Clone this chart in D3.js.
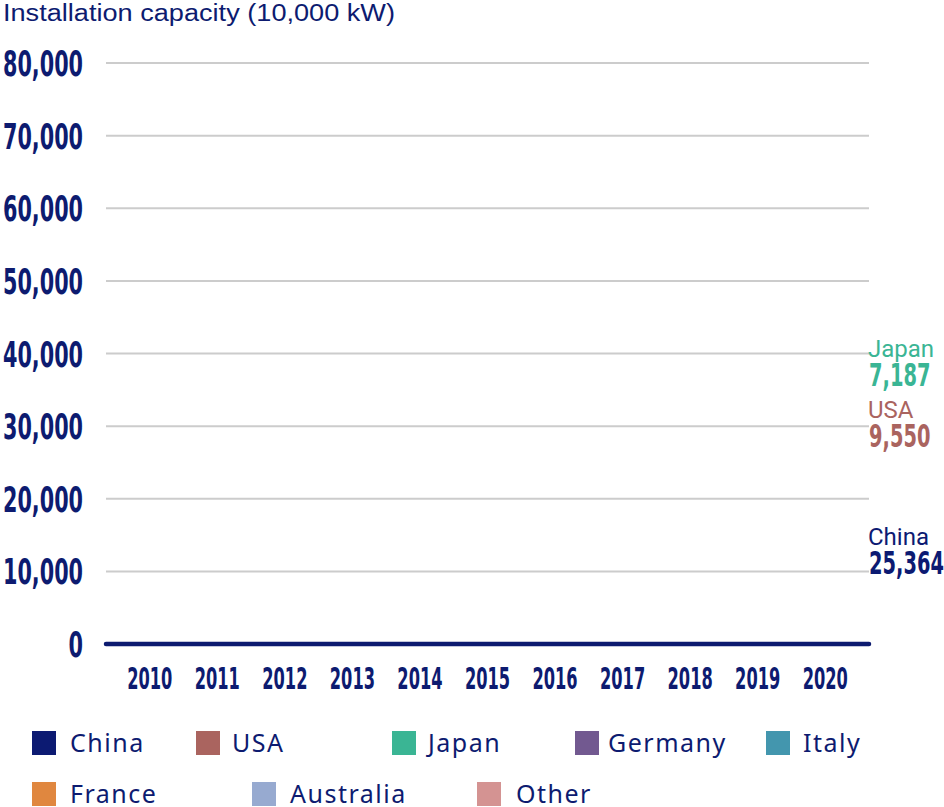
<!DOCTYPE html>
<html>
<head>
<meta charset="utf-8">
<script src="https://cdn.jsdelivr.net/npm/d3@7"></script>
<style>
  html, body { margin: 0; padding: 0; background: #fff; }
  svg { display: block; }
</style>
</head>
<body>
<svg id="chart" width="944" height="807"></svg>
<script>
// ---------- data ----------
const years = ["2010","2011","2012","2013","2014","2015","2016","2017","2018","2019","2020"];
const countries = ["China","USA","Japan","Germany","Italy","France","Australia","Other"];
const countryColors = ["#0c1a72","#aa645f","#3ab594","#725990","#4396ae","#e0873f","#97aad0","#d49392"];
// latest (2020) labelled values for the leading countries, stacked bottom-up
const labelCountries = ["China","USA","Japan"];
const labelValues = [25364, 9550, 7187];
const yTicks = [0,10000,20000,30000,40000,50000,60000,70000,80000];
const yMax = 80000;
const axisTitle = "Installation capacity (10,000 kW)";

// ---------- layout ----------
const navy = "#0d1b70";
const numFont = "'DejaVu Sans',sans-serif";
const txtFont = "Roboto,'Liberation Sans',sans-serif";
const svg = d3.select("#chart");

const y = d3.scaleLinear().domain([0, yMax]).range([644, 63]);
const x = d3.scaleBand().domain(years).range([116, 859]).paddingInner(0.3).paddingOuter(0.15);
const gridX0 = 106, gridX1 = 869;

// condensed numerals: fit each string to a width built from digit/comma widths
function fitNum(sel, digitW, commaW) {
  sel.each(function() {
    const s = d3.select(this).text();
    let w = 0;
    for (const ch of s) w += (ch === "," ? commaW : digitW);
    d3.select(this).attr("textLength", w).attr("lengthAdjust", "spacingAndGlyphs");
  });
}

// title
svg.append("text")
  .attr("x", 3).attr("y", 21)
  .attr("font-family", "'Liberation Sans',Arial,sans-serif").attr("font-size", 23.5)
  .attr("fill", navy)
  .attr("textLength", 392).attr("lengthAdjust", "spacingAndGlyphs")
  .text(axisTitle);

// gridlines
svg.append("g").selectAll("line")
  .data(yTicks.filter(d => d > 0))
  .join("line")
  .attr("x1", gridX0).attr("x2", gridX1)
  .attr("y1", d => y(d)).attr("y2", d => y(d))
  .attr("stroke", "#cccccc").attr("stroke-width", 2);

// y tick labels
const yl = svg.append("g").selectAll("text")
  .data(yTicks)
  .join("text")
  .attr("x", 83).attr("y", d => y(d) + 13)
  .attr("text-anchor", "end")
  .attr("font-family", numFont).attr("font-weight", "bold")
  .attr("font-size", 35)
  .attr("fill", navy)
  .text(d => d3.format(",")(d));
fitNum(yl, 14.5, 7.5);

// baseline
svg.append("line")
  .attr("x1", gridX0).attr("x2", gridX1)
  .attr("y1", y(0)).attr("y2", y(0))
  .attr("stroke", navy).attr("stroke-width", 4.5)
  .attr("stroke-linecap", "round");

// x labels
const xl = svg.append("g").selectAll("text")
  .data(years)
  .join("text")
  .attr("x", d => x(d) + x.bandwidth() / 2)
  .attr("y", 689)
  .attr("text-anchor", "middle")
  .attr("font-family", numFont).attr("font-weight", "bold")
  .attr("font-size", 30)
  .attr("fill", navy)
  .text(d => d);
fitNum(xl, 11.3, 6);

// right-hand labels at stacked midpoints of the last year
let cum = 0;
const stackMid = labelValues.map(v => { const m = cum + v / 2; cum += v; return m; });
const rl = svg.append("g");
labelCountries.forEach((c, i) => {
  const col = countryColors[countries.indexOf(c)];
  const ym = y(stackMid[i]);
  rl.append("text")
    .attr("x", 868).attr("y", ym - 7)
    .attr("font-family", txtFont).attr("font-size", 24)
    .attr("fill", col)
    .text(c);
  const t = rl.append("text")
    .attr("x", 869).attr("y", ym + 22)
    .attr("font-family", numFont).attr("font-weight", "bold")
    .attr("font-size", 31.5)
    .attr("fill", col)
    .text(d3.format(",")(labelValues[i]));
  fitNum(t, 13.6, 7);
});

// legend
const legendSq = [[32,731],[196,731],[392,731],[575,731],[766,731],[32,782],[252,782],[477,782]];
const legendTx = [70,232,428,608,803,70,290,516];
const lg = svg.append("g");
countries.forEach((c, i) => {
  const [lx, ly] = legendSq[i];
  lg.append("rect")
    .attr("x", lx).attr("y", ly).attr("width", 24).attr("height", 24)
    .attr("fill", countryColors[i]);
  lg.append("text")
    .attr("x", legendTx[i]).attr("y", ly + 21)
    .attr("font-family", "'Noto Sans',sans-serif").attr("font-size", 25)
    .attr("letter-spacing", 1.5)
    .attr("fill", navy)
    .text(c);
});
</script>
</body>
</html>
